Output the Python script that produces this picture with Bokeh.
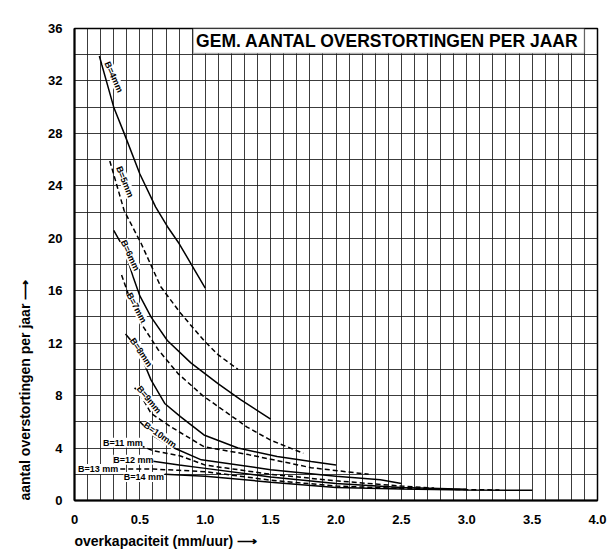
from bokeh.plotting import figure
from bokeh.models import FixedTicker, BoxAnnotation, Label, Range1d, Title, NumeralTickFormatter
from bokeh.core.properties import value
from bokeh.embed import file_html
from bokeh.resources import INLINE

FONT = "Liberation Sans"

# ---- data (overkapaciteit mm/uur -> overstortingen per jaar)
b4_x = [0.19, 0.30, 0.38, 0.50, 0.62, 0.71, 0.80, 0.90, 1.00]
b4_y = [33.9, 30.0, 28.0, 24.9, 22.4, 20.9, 19.6, 17.9, 16.2]
b5_x = [0.27, 0.38, 0.51, 0.66, 0.81, 0.99, 1.10, 1.25]
b5_y = [25.9, 22.1, 19.6, 16.3, 14.3, 12.2, 11.1, 10.0]
b6_x = [0.30, 0.38, 0.45, 0.50, 0.585, 0.71, 0.89, 1.10, 1.27, 1.50]
b6_y = [20.6, 19.2, 17.0, 15.6, 14.0, 12.2, 10.5, 8.9, 7.7, 6.2]
b7_x = [0.36, 0.42, 0.51, 0.64, 0.79, 0.98, 1.32, 1.50, 1.75]
b7_y = [17.2, 15.5, 13.5, 11.5, 9.7, 8.0, 5.6, 4.6, 3.6]
b8_x = [0.39, 0.45, 0.51, 0.585, 0.69, 0.81, 0.99, 1.25, 1.55, 1.81, 2.00]
b8_y = [12.7, 12.0, 11.0, 9.2, 7.4, 6.4, 5.0, 4.0, 3.35, 2.97, 2.7]
b9_x = [0.46, 0.52, 0.585, 0.74, 0.99, 1.33, 1.50, 1.81, 2.25]
b9_y = [8.6, 7.8, 6.65, 5.6, 4.1, 3.5, 3.15, 2.5, 2.0]
b10_x = [0.50, 0.61, 0.74, 0.97, 1.50, 2.00, 2.34, 2.50]
b10_y = [6.0, 4.9, 4.1, 3.1, 2.35, 1.85, 1.58, 1.3]
b11_x = [0.50, 0.60, 0.81, 1.00, 1.50, 2.00, 2.50, 2.75]
b11_y = [4.2, 3.8, 3.4, 2.7, 2.0, 1.5, 1.1, 0.95]
b12_x = [0.60, 0.80, 1.00, 1.50, 2.00, 2.50, 3.00]
b12_y = [3.0, 2.7, 2.45, 1.8, 1.3, 1.0, 0.85]
b13_x = [0.35, 0.60, 0.80, 1.00, 1.50, 2.00, 2.50, 3.00, 3.25]
b13_y = [2.4, 2.4, 2.3, 2.2, 1.55, 1.1, 0.92, 0.83, 0.8]
b14_x = [0.69, 1.00, 1.50, 2.00, 2.50, 3.00, 3.50]
b14_y = [2.0, 1.85, 1.4, 1.0, 0.88, 0.8, 0.78]

series_names = ["B=4mm", "B=5mm", "B=6mm", "B=7mm", "B=8mm", "B=9mm", "B=10mm",
                "B=11 mm", "B=12 mm", "B=13 mm", "B=14 mm"]
series_x = [b4_x, b5_x, b6_x, b7_x, b8_x, b9_x, b10_x, b11_x, b12_x, b13_x, b14_x]
series_y = [b4_y, b5_y, b6_y, b7_y, b8_y, b9_y, b10_y, b11_y, b12_y, b13_y, b14_y]
series_dash = ["solid", "5 3", "solid", "5 3", "solid", "5 3", "solid", "5 3", "solid", "5 3", "solid"]

# curve label placement
lab_x = [0.30, 0.385, 0.425, 0.475, 0.51, 0.57, 0.655, 0.37, 0.45, 0.18, 0.53]
lab_y = [32.3, 24.3, 18.7, 14.7, 11.3, 7.7, 5.0, 4.4, 3.1, 2.4, 1.8]
lab_angle = [-66, -68, -65, -62, -56, -50, -35, 0, 0, 0, 0]

x_ticks = [0, 0.5, 1.0, 1.5, 2.0, 2.5, 3.0, 3.5, 4.0]
y_ticks = [0, 4, 8, 12, 16, 20, 24, 28, 32, 36]

p = figure(width=615, height=556, x_range=Range1d(0, 4), y_range=Range1d(0, 36),
           output_backend="svg", toolbar_location=None,
           min_border_left=74, min_border_right=18, min_border_top=28, min_border_bottom=56)
p.background_fill_color = "white"
p.border_fill_color = "white"
p.outline_line_color = "black"
p.outline_line_width = 1.5

p.xaxis.ticker = FixedTicker(ticks=x_ticks)
p.xaxis.formatter = NumeralTickFormatter(format="0.0")
p.xaxis.major_label_overrides = {0: "0"}
p.yaxis.ticker = FixedTicker(ticks=y_ticks)
for ax in (p.xaxis, p.yaxis):
    ax.major_label_text_font = FONT
    ax.major_label_text_font_style = "bold"
    ax.major_label_text_font_size = "13px"
    ax.major_label_text_color = "black"
    ax.axis_line_color = "black"
    ax.axis_line_width = 2
    ax.major_tick_in = 0
    ax.major_tick_out = 0
    ax.minor_tick_in = 0
    ax.minor_tick_out = 0
    ax.major_label_standoff = 12
p.xaxis.major_label_standoff = 14

p.xgrid.ticker = FixedTicker(ticks=[i / 10 for i in range(41)])
p.ygrid.ticker = FixedTicker(ticks=list(range(0, 37, 2)))
for g in (p.xgrid, p.ygrid):
    g.grid_line_color = "#1a1a1a"
    g.grid_line_alpha = 0.85
    g.grid_line_width = 1

for xs, ys, dash in zip(series_x, series_y, series_dash):
    p.line(xs, ys, line_color="black", line_width=1.5, line_dash=dash)

p.text(x=lab_x, y=lab_y, text=series_names, angle=lab_angle, angle_units="deg",
       text_font=value(FONT), text_font_style="bold", text_font_size="9px",
       text_align="center", text_baseline="middle", text_color="black",
       background_fill_color="white")

box = BoxAnnotation(left=0.907, right=3.90, bottom=34.1, top=36,
                    fill_color="white", fill_alpha=1.0, line_color="black", line_width=1.5)
p.add_layout(box)
p.add_layout(Label(x=0.93, y=35.05, text="GEM.  AANTAL  OVERSTORTINGEN  PER  JAAR",
                   text_font=FONT, text_font_style="bold", text_font_size="17.5px",
                   text_align="left", text_baseline="middle", text_color="black"))

p.add_layout(Title(text="overkapaciteit (mm/uur) \u27f6", align="left",
                   text_font=FONT, text_font_style="bold", text_font_size="14px",
                   text_color="black", standoff=8), "below")
p.add_layout(Title(text="aantal overstortingen per jaar \u27f6", align="left",
                   text_font=FONT, text_font_style="bold", text_font_size="14px",
                   text_color="black", standoff=26), "left")

open("out.html", "w").write(file_html(p, INLINE))
